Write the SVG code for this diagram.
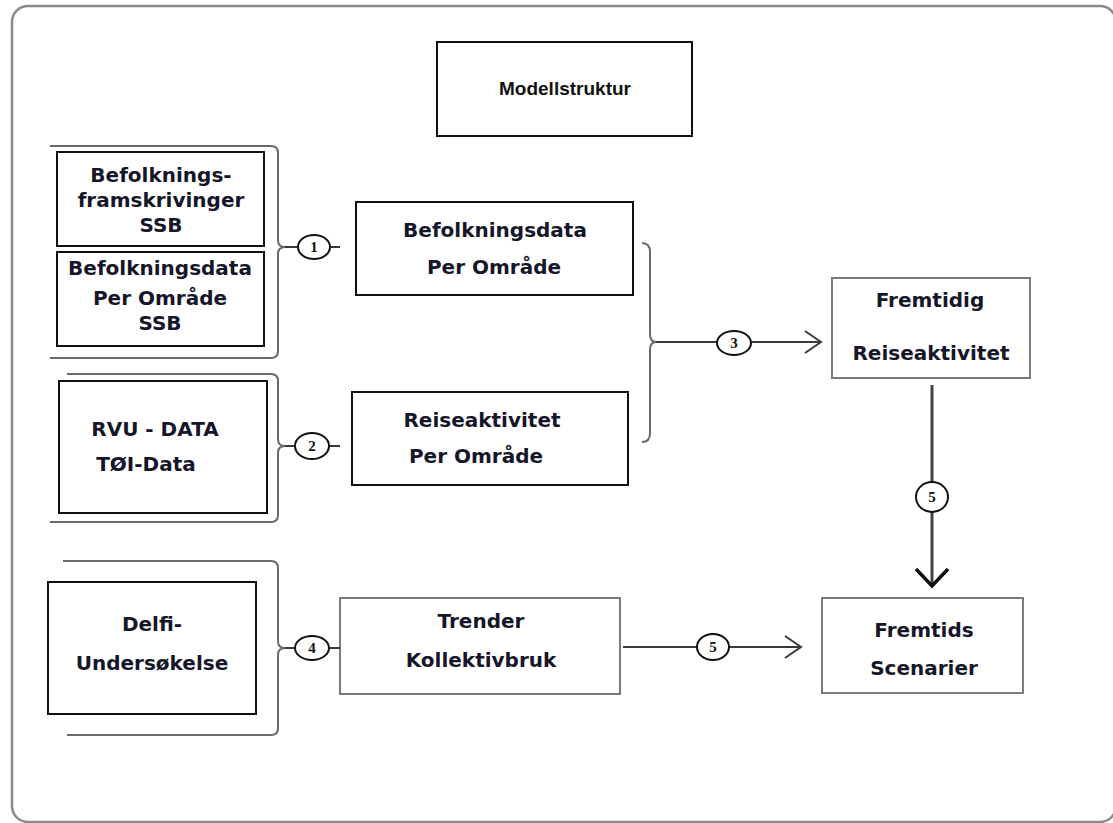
<svg xmlns="http://www.w3.org/2000/svg" width="1113" height="823" viewBox="0 0 1113 823">
<style>
.bk{fill:#fff;stroke:#111;stroke-width:2}
.gb{fill:#fff;stroke:#7a7a7a;stroke-width:2}
.t{font-family:"DejaVu Sans",sans-serif;font-weight:bold;font-size:20px;fill:#16162a;text-anchor:middle}
.br{fill:none;stroke:#6a6a6a;stroke-width:2}
.ln{fill:none;stroke:#3a3a3a;stroke-width:2}
.el{fill:#fff;stroke:#111;stroke-width:2}
.n{font-family:"Liberation Serif",serif;font-weight:bold;font-size:15px;fill:#111;text-anchor:middle}
</style>
<rect x="0" y="0" width="1113" height="823" fill="#fff"/>
<rect id="frame" x="12" y="6" width="1104" height="816" rx="16" fill="#fff" stroke="#8a8a8a" stroke-width="2.5"/>

<g id="title">
<rect class="bk" x="437" y="42" width="255" height="94"/>
<text x="565" y="95" style="font-family:'Liberation Sans',sans-serif;font-size:19px;font-weight:bold;fill:#111" text-anchor="middle">Modellstruktur</text>
</g>

<g id="n-befolkningsframskrivinger">
<rect class="bk" x="57" y="152" width="207" height="94"/>
<text class="t" x="161" y="182">Befolknings-</text>
<text class="t" x="161" y="207">framskrivinger</text>
<text class="t" x="161" y="232">SSB</text>
</g>
<g id="n-befolkningsdata-ssb">
<rect class="bk" x="57" y="252" width="207" height="94"/>
<text class="t" x="160" y="275">Befolkningsdata</text>
<text class="t" x="160" y="305">Per Område</text>
<text class="t" x="160" y="330">SSB</text>
</g>
<g id="n-rvu">
<rect class="bk" x="59" y="381" width="208" height="132"/>
<text class="t" x="155" y="436">RVU - DATA</text>
<text class="t" x="146" y="471">TØI-Data</text>
</g>
<g id="n-delfi">
<rect class="bk" x="48" y="582" width="208" height="132"/>
<text class="t" x="152" y="631">Delfi-</text>
<text class="t" x="152" y="670">Undersøkelse</text>
</g>
<g id="n-befolkningsdata">
<rect class="bk" x="356" y="202" width="277" height="93"/>
<text class="t" x="495" y="237">Befolkningsdata</text>
<text class="t" x="494" y="274">Per Område</text>
</g>
<g id="n-reiseaktivitet">
<rect class="bk" x="352" y="392" width="276" height="93"/>
<text class="t" x="482" y="427">Reiseaktivitet</text>
<text class="t" x="476" y="463">Per Område</text>
</g>
<g id="n-trender">
<rect class="gb" x="340" y="598" width="280" height="96"/>
<text class="t" x="481" y="628">Trender</text>
<text class="t" x="481" y="667">Kollektivbruk</text>
</g>
<g id="n-fremtidig">
<rect class="gb" x="832" y="278" width="198" height="100"/>
<text class="t" x="930" y="307">Fremtidig</text>
<text class="t" x="931" y="360">Reiseaktivitet</text>
</g>
<g id="n-fremtids">
<rect class="gb" x="822" y="598" width="201" height="95"/>
<text class="t" x="924" y="637">Fremtids</text>
<text class="t" x="924" y="675">Scenarier</text>
</g>

<g id="connectors">
<path class="br" d="M50 146 H271 Q278 146 278 153 V240 Q278 247 285 247 Q278 247 278 254 V351 Q278 358 271 358 H50"/>
<path class="br" d="M67 374 H271 Q278 374 278 381 V439 Q278 446 285 446 Q278 446 278 453 V515 Q278 522 271 522 H50"/>
<path class="br" d="M63 561 H271 Q278 561 278 568 V641 Q278 648 285 648 Q278 648 278 655 V728 Q278 735 271 735 H67"/>
<path class="br" d="M642 243 Q650 243 650 252 V334 Q650 342 656 342 Q650 342 650 350 V433 Q650 442 642 442"/>

<line class="ln" x1="285" y1="247" x2="340" y2="247"/>
<line class="ln" x1="285" y1="446" x2="340" y2="446"/>
<line class="ln" x1="285" y1="648" x2="340" y2="648"/>
<line class="ln" x1="656" y1="342" x2="821" y2="342"/>
<polyline class="ln" points="805,331 821,342 805,353" stroke-width="2.5"/>
<line class="ln" x1="623" y1="647" x2="801" y2="647"/>
<polyline class="ln" points="785,636 801,647 785,658" stroke-width="2.5"/>
<line x1="932" y1="385" x2="932" y2="586" stroke="#444" stroke-width="3"/>
<polyline points="916,569 932,586 948,569" fill="none" stroke="#111" stroke-width="3.5"/>

<ellipse class="el" cx="314" cy="247" rx="16" ry="12"/>
<text class="n" x="314" y="252">1</text>
<ellipse class="el" cx="312" cy="446" rx="17" ry="13"/>
<text class="n" x="312" y="451">2</text>
<ellipse class="el" cx="312" cy="648" rx="17" ry="12"/>
<text class="n" x="312" y="653">4</text>
<ellipse class="el" cx="734" cy="343" rx="17" ry="12"/>
<text class="n" x="734" y="348">3</text>
<ellipse class="el" cx="713" cy="647" rx="16" ry="13"/>
<text class="n" x="713" y="652">5</text>
<ellipse class="el" cx="932" cy="497" rx="16" ry="15"/>
<text class="n" x="932" y="502">5</text>
</g>
</svg>
